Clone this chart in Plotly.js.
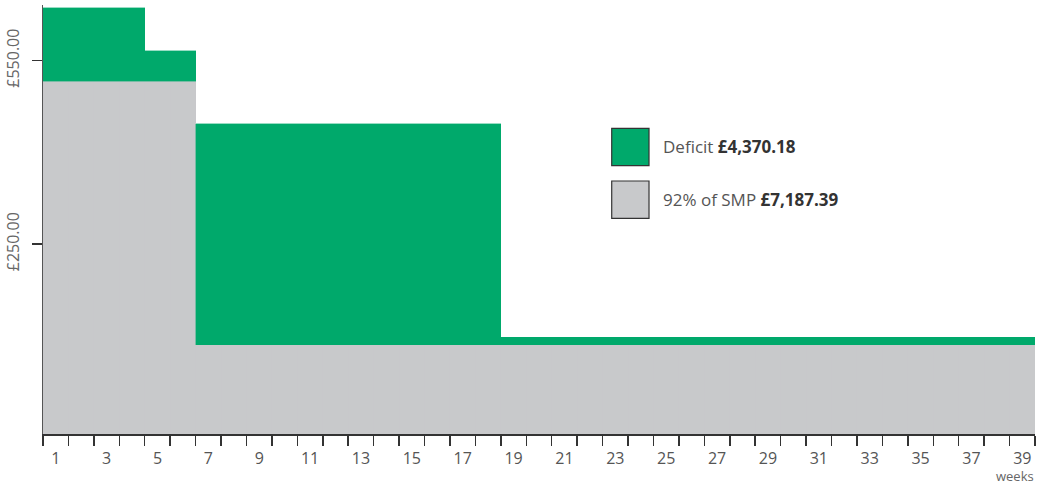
<!DOCTYPE html>
<html>
<head>
<meta charset="utf-8">
<script src="https://cdn.plot.ly/plotly-3.0.1.min.js"></script>
<style>html,body{margin:0;padding:0;background:#fff;}#chart{width:1040px;height:486px;}</style>
</head>
<body>
<div id="chart"></div>
<script>
// Weeks of maternity leave
const weeks = [1,2,3,4,5,6,7,8,9,10,11,12,13,14,15,16,17,18,19,20,21,22,23,24,25,26,27,28,29,30,31,32,33,34,35,36,37,38,39];
// 92% of SMP (£ per week)
const smp92 = [501.4,501.4,501.4,501.4,501.4,501.4,
  126.65,126.65,126.65,126.65,126.65,126.65,126.65,126.65,126.65,126.65,126.65,126.65,
  126.65,126.65,126.65,126.65,126.65,126.65,126.65,126.65,126.65,126.65,126.65,126.65,
  126.65,126.65,126.65,126.65,126.65,126.65,126.65,126.65,126.65];
// Deficit (£ per week), stacked on top
const deficit = [104.9,104.9,104.9,104.9,43.7,43.7,
  314.5,314.5,314.5,314.5,314.5,314.5,314.5,314.5,314.5,314.5,314.5,314.5,
  11.0,11.0,11.0,11.0,11.0,11.0,11.0,11.0,11.0,11.0,11.0,11.0,11.0,
  11.0,11.0,11.0,11.0,11.0,11.0,11.0,11.0];
const xTickLabels = ['1','3','5','7','9','11','13','15','17','19','21','23','25','27','29','31','33','35','37','39'];
const yTickLabels = ['£250.00','£550.00'];
const yTickValues = [270, 531];
const deficitTotal = '£4,370.18';
const smpTotal = '£7,187.39';

const GREEN = '#00A96B';
const GREY = '#C8C9CB';
const FONT = 'Open Sans, sans-serif';

const traces = [
  {type:'bar', x:weeks, y:smp92, name:'92% of SMP', marker:{color:GREY, line:{color:GREY, width:0.4}}, hoverinfo:'skip'},
  {type:'bar', x:weeks, y:deficit, name:'Deficit', marker:{color:GREEN, line:{color:GREEN, width:0.4}}, hoverinfo:'skip'},
  {type:'scatter', x:[weeks[0]], y:[0], xaxis:'x2', mode:'markers', marker:{opacity:0}, showlegend:false, hoverinfo:'skip'}
];

const layout = {
  width:1040, height:486,
  margin:{l:43, r:5, t:5, b:52},
  paper_bgcolor:'#fff', plot_bgcolor:'#fff',
  barmode:'stack', bargap:0,
  showlegend:false,
  font:{family:FONT, color:'#555'},
  xaxis:{
    range:[0.5, 39.5], tickmode:'array', tickvals:xTickLabels.map(Number), ticktext:xTickLabels,
    ticks:'outside', ticklen:10, tickcolor:'rgba(0,0,0,0)',
    showline:false, showgrid:false, zeroline:false,
    tickfont:{family:FONT, size:16, color:'#555'}
  },
  xaxis2:{
    overlaying:'x', anchor:'y', side:'bottom', range:[0.5, 39.5],
    tickmode:'linear', tick0:0.5, dtick:1, ticks:'outside', ticklen:10, tickwidth:1.5, tickcolor:'#333',
    showticklabels:false, showline:true, linecolor:'#333', linewidth:2, showgrid:false, zeroline:false
  },
  yaxis:{
    range:[0, 610], tickmode:'array', tickvals:yTickValues, ticktext:yTickLabels,
    ticks:'outside', ticklen:10, tickwidth:1.5, tickcolor:'#333', tickangle:-90,
    ticklabelstandoff:6,
    showline:true, linecolor:'#555', linewidth:1.5, showgrid:false, zeroline:false,
    tickfont:{family:FONT, size:16, color:'#666'}
  },
  shapes:[
    {type:'rect', xref:'paper', yref:'paper', x0:0.5733, x1:0.6109, y0:0.6254, y1:0.7126, fillcolor:GREEN, line:{color:'#333', width:1.2}},
    {type:'rect', xref:'paper', yref:'paper', x0:0.5733, x1:0.6109, y0:0.5028, y1:0.5897, fillcolor:GREY, line:{color:'#333', width:1.2}}
  ],
  annotations:[
    {xref:'paper', yref:'paper', x:0.623, y:0.669, xanchor:'left', yanchor:'middle', showarrow:false,
     text:'Deficit <b style="color:#333">'+deficitTotal+'</b>', font:{family:FONT, size:17, color:'#555'}},
    {xref:'paper', yref:'paper', x:0.623, y:0.5455, xanchor:'left', yanchor:'middle', showarrow:false,
     text:'92% of SMP <b style="color:#333">'+smpTotal+'</b>', font:{family:FONT, size:17, color:'#555'}},
    {xref:'paper', yref:'paper', x:1, y:-0.098, xanchor:'right', yanchor:'middle', showarrow:false, borderpad:0,
     text:'weeks', font:{family:FONT, size:13, color:'#666'}}
  ]
};

Plotly.newPlot('chart', traces, layout, {staticPlot:true, displayModeBar:false});
</script>
</body>
</html>
